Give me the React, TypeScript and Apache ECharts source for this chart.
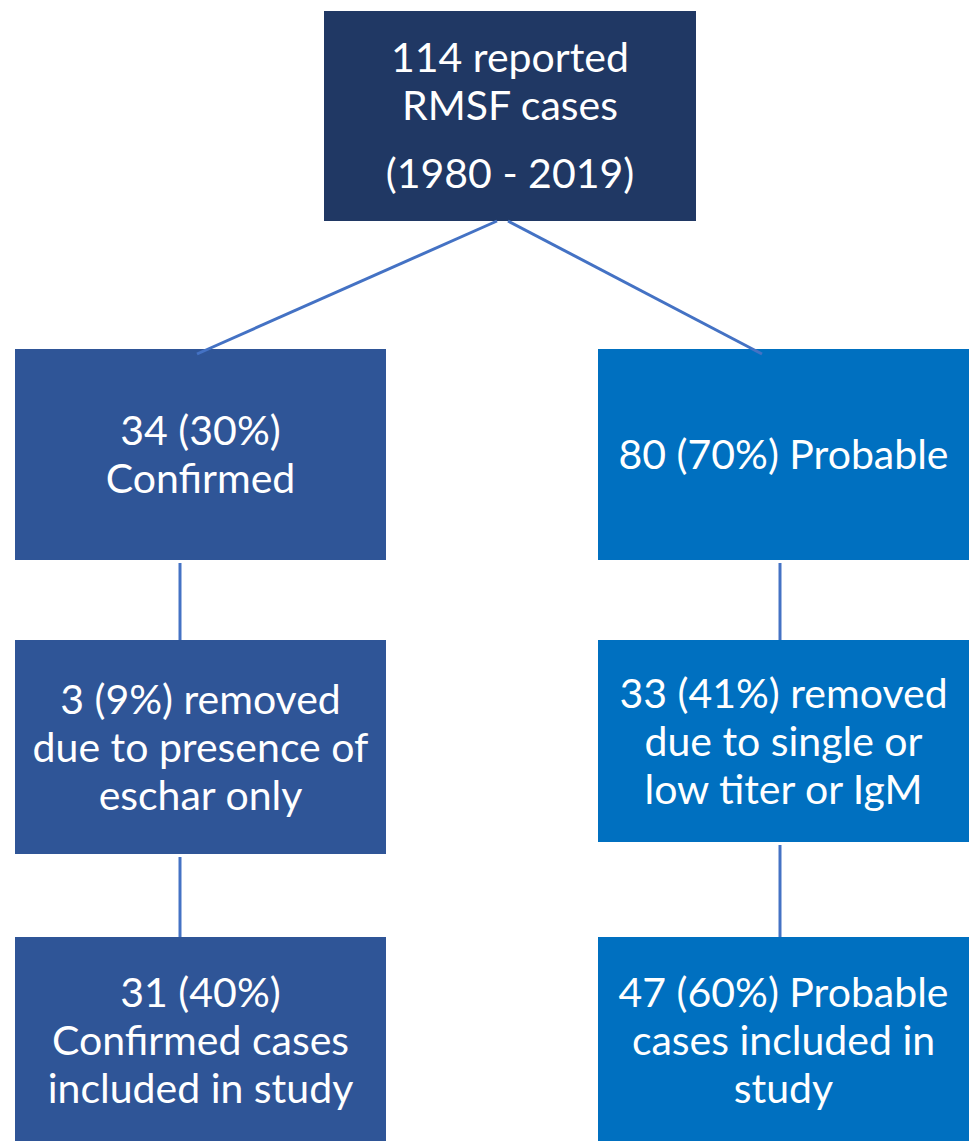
import React, { useEffect, useRef } from "react";
import * as echarts from "echarts";

// ---- content ----
const topLabel = "114 reported\nRMSF cases";
const topPeriod = "(1980 - 2019)";
const confirmedLabels = [
  "34 (30%)\nConfirmed",
  "3 (9%) removed\ndue to presence of\neschar only",
  "31 (40%)\nConfirmed cases\nincluded in study",
];
const probableLabels = [
  "80 (70%) Probable",
  "33 (41%) removed\ndue to single or\nlow titer or IgM",
  "47 (60%) Probable\ncases included in\nstudy",
];

// ---- layout ----
const W = 969;
const H = 1141;
const TOP = { x: 324, y: 11, w: 372, h: 210 };
const LEFT_X = 15;
const RIGHT_X = 598;
const COL_W = 371;
const LEFT_ROWS = [
  { y: 349, h: 211 },
  { y: 640, h: 214 },
  { y: 937, h: 210 },
];
const RIGHT_ROWS = [
  { y: 349, h: 211 },
  { y: 640, h: 202 },
  { y: 937, h: 210 },
];
const LEFT_LINE_X = 180;
const RIGHT_LINE_X = 780;

const C_TOP = "#203864";
const C_LEFT = "#2F5597";
const C_RIGHT = "#0070C0";
const C_LINE = "#4472C4";
const FONT = "Lato, 'Open Sans', sans-serif";
const FS = 41;
const LH = 48;

function textEl(text: string, cx: number, cy: number) {
  return {
    type: "text",
    x: cx,
    y: cy,
    z: 10,
    style: {
      text,
      fill: "#ffffff",
      font: `${FS}px ${FONT}`,
      fontSize: FS,
      fontFamily: FONT,
      lineHeight: LH,
      align: "center",
      verticalAlign: "middle",
    },
  };
}

function rectEl(x: number, y: number, w: number, h: number, fill: string) {
  return {
    type: "rect",
    z: 1,
    shape: { x, y, width: w, height: h },
    style: { fill },
  };
}

function lineEl(x1: number, y1: number, x2: number, y2: number) {
  return {
    type: "line",
    z: 5,
    shape: { x1, y1, x2, y2 },
    style: { stroke: C_LINE, lineWidth: 3 },
  };
}

export default function App() {
  const ref = useRef<HTMLDivElement>(null);
  useEffect(() => {
    document.body.style.margin = "0";
    if (!ref.current) return;
    const chart = echarts.init(ref.current, undefined, { renderer: "svg" });
    const els: any[] = [];
    // top box
    els.push(rectEl(TOP.x, TOP.y, TOP.w, TOP.h, C_TOP));
    const topCx = TOP.x + TOP.w / 2;
    els.push(textEl(topLabel, topCx, TOP.y + 69));
    els.push(textEl(topPeriod, topCx, TOP.y + 161));

    confirmedLabels.forEach((lab, i) => {
      const r = LEFT_ROWS[i];
      els.push(rectEl(LEFT_X, r.y, COL_W, r.h, C_LEFT));
      const cy = i === 2 ? r.y + 102 : r.y + r.h / 2 - 1;
      els.push(textEl(lab, LEFT_X + COL_W / 2, cy));
    });
    probableLabels.forEach((lab, i) => {
      const r = RIGHT_ROWS[i];
      els.push(rectEl(RIGHT_X, r.y, COL_W, r.h, C_RIGHT));
      const cy = i === 2 ? r.y + 102 : r.y + r.h / 2 - 1;
      els.push(textEl(lab, RIGHT_X + COL_W / 2, cy));
    });

    // connectors
    const topBottom = TOP.y + TOP.h;
    els.push(lineEl(497, topBottom, 197, LEFT_ROWS[0].y + 5));
    els.push(lineEl(508, topBottom, 762, RIGHT_ROWS[0].y + 5));
    for (let i = 0; i < 2; i++) {
      const a = LEFT_ROWS[i];
      const b = LEFT_ROWS[i + 1];
      els.push(lineEl(LEFT_LINE_X, a.y + a.h + 3, LEFT_LINE_X, b.y));
      const c = RIGHT_ROWS[i];
      const d = RIGHT_ROWS[i + 1];
      els.push(lineEl(RIGHT_LINE_X, c.y + c.h + 3, RIGHT_LINE_X, d.y));
    }

    chart.setOption({
      animation: false,
      backgroundColor: "#ffffff",
      graphic: { elements: els },
    });
    return () => chart.dispose();
  }, []);
  return <div ref={ref} style={{ width: W, height: H }} />;
}
